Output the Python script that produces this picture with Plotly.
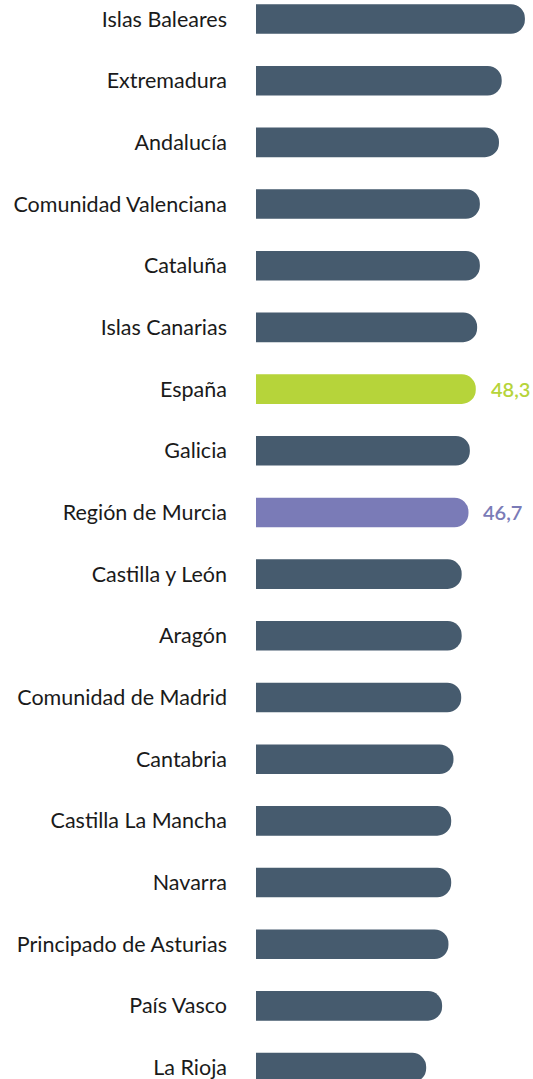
import plotly.graph_objects as go

regions = ["Islas Baleares", "Extremadura", "Andalucía", "Comunidad Valenciana", "Cataluña",
           "Islas Canarias", "España", "Galicia", "Región de Murcia", "Castilla y León", "Aragón",
           "Comunidad de Madrid", "Cantabria", "Castilla La Mancha", "Navarra",
           "Principado de Asturias", "País Vasco", "La Rioja"]
values = [59.1, 54.0, 53.4, 49.2, 49.2, 48.6, 48.3, 47.0, 46.7, 45.2, 45.2, 45.1,
          43.4, 42.9, 42.9, 42.3, 40.9, 37.4]

DARK = "#465b6e"
GREEN = "#b6d43a"
PURPLE = "#7a7bb7"
highlight = {"España": GREEN, "Región de Murcia": PURPLE}
colors = [highlight.get(r, DARK) for r in regions]

fig = go.Figure(go.Bar(
    x=values, y=regions, orientation="h",
    marker=dict(color=colors, cornerradius=14, line=dict(width=0)),
    width=0.48, hoverinfo="skip",
))

for r, v in zip(regions, values):
    if r in highlight:
        fig.add_annotation(x=v, y=r, text=f"{v:.1f}".replace(".", ","), showarrow=False,
                           xanchor="left", xshift=13,
                           font=dict(family="Lato", size=20, color=highlight[r], weight=600))

fig.update_layout(
    width=533, height=1079,
    margin=dict(l=256, r=4, t=0, b=0, autoexpand=False),
    paper_bgcolor="white", plot_bgcolor="white",
    showlegend=False,
    xaxis=dict(range=[0, 60], visible=False, fixedrange=True),
    yaxis=dict(type="category", categoryorder="array", categoryarray=regions,
               range=[17.185, -0.308], showgrid=False, zeroline=False, showline=False,
               automargin=False, ticks="", ticklabelstandoff=28,
               tickfont=dict(family="Lato", size=21.5, color="#1a1a1a")),
)

fig.write_html("out.html", config={"displayModeBar": False},
               post_script="document.body.style.margin='0';document.body.style.overflow='hidden';")
